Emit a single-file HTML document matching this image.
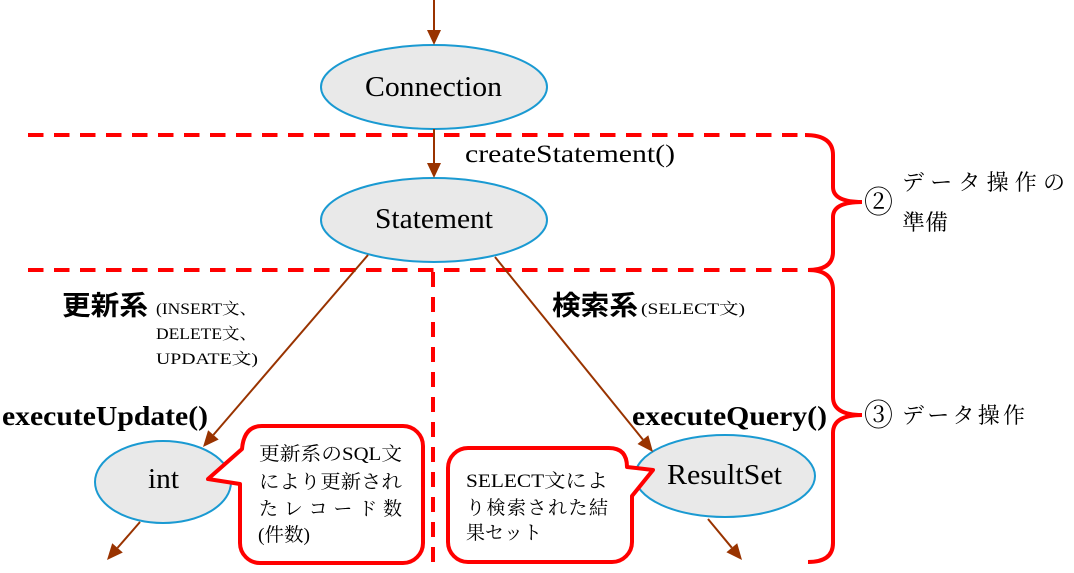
<!DOCTYPE html>
<html>
<head>
<meta charset="utf-8">
<style>
html,body{margin:0;padding:0;background:#fff;}
svg{display:block;}
.serif{font-family:"Liberation Serif","Noto Serif CJK JP","Noto Serif CJK SC",serif;}
.jpserif{font-family:"Liberation Serif","Noto Serif CJK SC",serif;}
.jpsans{font-family:"Liberation Sans","Noto Sans CJK JP",sans-serif;}
</style>
</head>
<body>
<svg width="1074" height="573" viewBox="0 0 1074 573" xmlns="http://www.w3.org/2000/svg">
  <!-- dashed separator lines -->
  <line x1="28" y1="135" x2="808" y2="135" stroke="#ff0000" stroke-width="4" stroke-dasharray="15.5 10.5"/>
  <line x1="28" y1="270" x2="808" y2="270" stroke="#ff0000" stroke-width="4" stroke-dasharray="15.5 10.5"/>
  <line x1="433" y1="272" x2="433" y2="566" stroke="#ff0000" stroke-width="4" stroke-dasharray="15 10"/>

  <!-- braces -->
  <path d="M805 135 Q833 135 833 155 V187 Q833 202 862 202 Q833 202 833 217 V252 Q833 270 808 270" fill="none" stroke="#ff0000" stroke-width="4"/>
  <path d="M808 270 Q833 270 833 290 V397 Q833 415 862 415 Q833 415 833 433 V543 Q833 562 808 562" fill="none" stroke="#ff0000" stroke-width="4"/>

  <!-- ellipses -->
  <ellipse cx="434" cy="87" rx="113" ry="42" fill="#e9e9e9" stroke="#1a9ad2" stroke-width="2"/>
  <ellipse cx="434" cy="220" rx="113" ry="42" fill="#e9e9e9" stroke="#1a9ad2" stroke-width="2"/>
  <ellipse cx="163" cy="482" rx="68" ry="41" fill="#e9e9e9" stroke="#1a9ad2" stroke-width="2"/>
  <ellipse cx="725" cy="476" rx="90" ry="41" fill="#e9e9e9" stroke="#1a9ad2" stroke-width="2"/>

  <!-- arrows -->
  <g stroke="#993300" stroke-width="2" fill="none">
    <line x1="434" y1="0" x2="434" y2="32"/>
    <line x1="434" y1="129" x2="434" y2="165"/>
    <line x1="368" y1="255" x2="213.4" y2="434.9"/>
    <line x1="495" y1="257" x2="642.9" y2="439.6"/>
    <line x1="140" y1="522" x2="117.5" y2="547.9"/>
    <line x1="708" y1="519" x2="731.8" y2="547.7"/>
  </g>
  <g fill="#993300">
    <polygon points="427,30 441,30 434,45"/>
    <polygon points="427,163 441,163 434,178"/>
    <polygon points="218.7,439.5 208.1,430.3 203,447"/>
    <polygon points="648.3,435.2 637.5,444 653,452"/>
    <polygon points="122.8,552.5 112.2,543.3 107,560"/>
    <polygon points="737.2,543.2 726.4,552.2 742,560"/>
  </g>

  <!-- callouts -->
  <path d="M262 426 H403 A20 20 0 0 1 423 446 V543 A20 20 0 0 1 403 563 H260 A20 20 0 0 1 240 543 V484 L208 479 L242 449 Q244 426 262 426 Z" fill="#fff" stroke="#ff0000" stroke-width="4" stroke-linejoin="round"/>
  <path d="M468 448 H609 Q627 448 627 467 L653 470 L632 496 V542 A20 20 0 0 1 612 562 H468 A20 20 0 0 1 448 542 V468 A20 20 0 0 1 468 448 Z" fill="#fff" stroke="#ff0000" stroke-width="4" stroke-linejoin="round"/>

  <!-- node labels -->
  <g class="serif" fill="#000">
    <text x="365" y="96" font-size="29" textLength="137" lengthAdjust="spacingAndGlyphs">Connection</text>
    <text x="375" y="228" font-size="28" textLength="118" lengthAdjust="spacingAndGlyphs">Statement</text>
    <text x="148" y="488" font-size="28" textLength="31" lengthAdjust="spacingAndGlyphs">int</text>
    <text x="667" y="484" font-size="28" textLength="115" lengthAdjust="spacingAndGlyphs">ResultSet</text>
    <text x="465" y="162" font-size="25" textLength="210" lengthAdjust="spacingAndGlyphs">createStatement()</text>
    <text x="2" y="425" font-size="27" font-weight="bold" textLength="206" lengthAdjust="spacingAndGlyphs">executeUpdate()</text>
    <text x="632" y="425" font-size="27" font-weight="bold" textLength="195" lengthAdjust="spacingAndGlyphs">executeQuery()</text>
  </g>

  <!-- category labels -->
  <text class="jpsans" x="62" y="315" font-size="27" font-weight="bold" textLength="86" lengthAdjust="spacingAndGlyphs">更新系</text>
  <text class="jpsans" x="552" y="315" font-size="27" font-weight="bold" textLength="86" lengthAdjust="spacingAndGlyphs">検索系</text>
  <g class="jpserif" fill="#000" font-size="16">
    <text x="156" y="314" textLength="101" lengthAdjust="spacingAndGlyphs">(INSERT文、</text>
    <text x="156" y="339" textLength="101" lengthAdjust="spacingAndGlyphs">DELETE文、</text>
    <text x="156" y="364" textLength="102" lengthAdjust="spacingAndGlyphs">UPDATE文)</text>
    <text x="641" y="314" textLength="104" lengthAdjust="spacingAndGlyphs">(SELECT文)</text>
  </g>

  <!-- callout text -->
  <g class="jpserif" fill="#000" font-size="19">
    <text x="259" y="460" textLength="143" lengthAdjust="spacingAndGlyphs">更新系のSQL文</text>
    <text x="259" y="488" textLength="143" lengthAdjust="spacingAndGlyphs">により更新され</text>
    <text x="259" y="515" textLength="143" lengthAdjust="spacing">たレコード数</text>
    <text x="258" y="541" textLength="52" lengthAdjust="spacingAndGlyphs">(件数)</text>
    <text x="466" y="487" textLength="142" lengthAdjust="spacingAndGlyphs">SELECT文によ</text>
    <text x="466" y="514" textLength="142" lengthAdjust="spacing">り検索された結</text>
    <text x="466" y="539" textLength="76" lengthAdjust="spacing">果セット</text>
  </g>

  <!-- brace labels -->
  <g class="jpserif" fill="#000">
    <text x="864" y="213" font-size="31" textLength="29" lengthAdjust="spacingAndGlyphs">②</text>
    <text x="864" y="426" font-size="31" textLength="29" lengthAdjust="spacingAndGlyphs">③</text>
    <text x="902" y="190" font-size="22" textLength="163" lengthAdjust="spacing">データ操作の</text>
    <text x="902" y="230" font-size="22" textLength="46" lengthAdjust="spacingAndGlyphs">準備</text>
    <text x="902" y="423" font-size="22" textLength="123" lengthAdjust="spacing">データ操作</text>
  </g>
</svg>
</body>
</html>
